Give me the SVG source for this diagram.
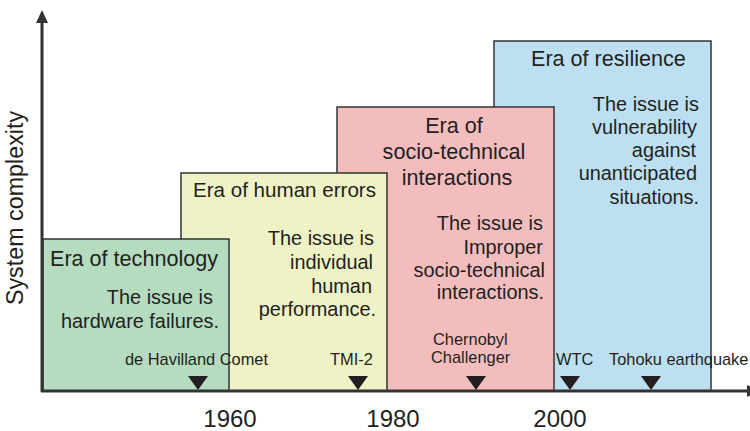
<svg xmlns="http://www.w3.org/2000/svg" width="750" height="431" viewBox="0 0 750 431">
<style>
text{font-family:"Liberation Sans",Arial,sans-serif;fill:#231f20}
.box{stroke:#333;stroke-width:1.5}
.t{font-size:21.6px}
.b{font-size:19.9px;text-anchor:end}
.e{font-size:16.4px}
.y{font-size:24px;text-anchor:middle}
.tri{fill:#231f20}
</style>
<rect width="750" height="431" fill="#fff"/>
<g id="era-resilience">
<rect class="box" x="494" y="41" width="217" height="350" fill="#bcdff2"/>
<text class="t" x="531" y="66">Era of resilience</text>
<text class="b" x="699" y="111">The issue is</text>
<text class="b" x="697" y="134">vulnerability</text>
<text class="b" x="696" y="157">against</text>
<text class="b" x="697" y="180">unanticipated</text>
<text class="b" x="699" y="204">situations.</text>
</g>
<g id="era-socio-technical">
<rect class="box" x="337" y="107" width="217" height="284" fill="#f3bdbe"/>
<text class="t" text-anchor="middle" x="454" y="133">Era of</text>
<text class="t" text-anchor="middle" x="454" y="159">socio-technical</text>
<text class="t" text-anchor="middle" x="457" y="185">interactions</text>
<text class="b" x="543" y="230">The issue is</text>
<text class="b" x="543" y="254">Improper</text>
<text class="b" x="545" y="277">socio-technical</text>
<text class="b" x="544" y="299">interactions.</text>
</g>
<g id="era-human-errors">
<rect class="box" x="181" y="173" width="206" height="218" fill="#eff2c5"/>
<text x="193" y="197" font-size="20.8" textLength="183" lengthAdjust="spacingAndGlyphs">Era of human errors</text>
<text class="b" x="374" y="245">The issue is</text>
<text class="b" x="373" y="269">individual</text>
<text class="b" x="372" y="293">human</text>
<text class="b" x="376" y="316">performance.</text>
</g>
<g id="era-technology">
<rect class="box" x="43" y="239" width="186" height="152" fill="#b5dcbf"/>
<text class="t" x="50" y="266">Era of technology</text>
<text class="b" x="213" y="304">The issue is</text>
<text class="b" x="219" y="328">hardware failures.</text>
</g>
<g id="events">
<text class="e" x="125" y="365">de Havilland Comet</text>
<polygon class="tri" points="188,376 208,376 198,390"/>
<text class="e" x="330" y="365">TMI-2</text>
<polygon class="tri" points="348,376 368,376 358,390"/>
<text class="e" x="433" y="345">Chernobyl</text>
<text class="e" x="431" y="363">Challenger</text>
<polygon class="tri" points="466,376 486,376 476,390"/>
<text class="e" x="556" y="365">WTC</text>
<polygon class="tri" points="560,376 580,376 570,390"/>
<text class="e" x="609" y="365">Tohoku earthquake</text>
<polygon class="tri" points="641,376 661,376 651,390"/>
</g>
<g id="axes">
<line x1="42" y1="20" x2="42" y2="392" stroke="#333" stroke-width="3"/>
<polygon points="42,10 36,23 48,23" fill="#333"/>
<line x1="41" y1="391" x2="748" y2="391" stroke="#333" stroke-width="3"/>
<polygon points="747,385 747,397 759,391" fill="#333"/>
<text class="y" x="230" y="427">1960</text>
<text class="y" x="393" y="427">1980</text>
<text class="y" x="560" y="427">2000</text>
<text font-size="23.3" text-anchor="middle" transform="translate(23,208) rotate(-90)">System complexity</text>
</g>
</svg>
